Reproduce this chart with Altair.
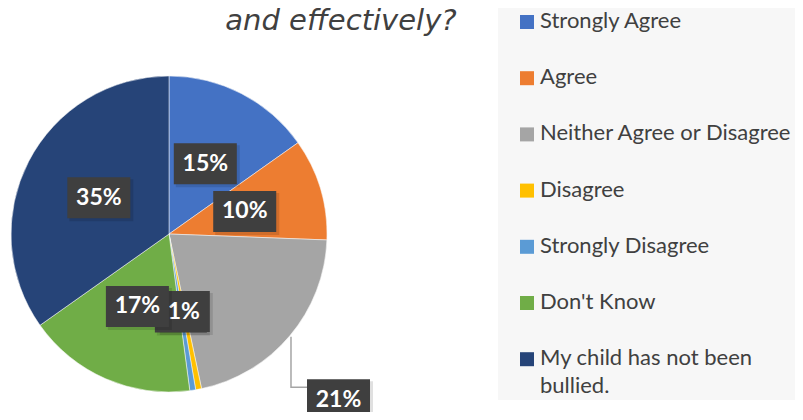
import math
import altair as alt
import pandas as pd

# ---------------- data ----------------
categories = [
    "Strongly Agree",
    "Agree",
    "Neither Agree or Disagree",
    "Disagree",
    "Strongly Disagree",
    "Don't Know",
    "My child has not been bullied.",
]
values = [15.2, 10.4, 21.1, 0.6, 0.6, 17.3, 34.8]
colors = ["#4472C4", "#ED7D31", "#A5A5A5", "#FFC000", "#5B9BD5", "#70AD47", "#264478"]
title_text = "and effectively?"

# ---------------- layout / style ----------------
W, H = 787, 404
CX, CY, R = 161, 226, 158
label_radius = [0.5, 0.5, 1.5, 0.5, 0.5, 0.5, 0.5]      # fraction of pie radius
label_shift_deg = [0, 0, 4.2, 0, 0, 0, 0]
label_draw_order = [0, 1, 2, 4, 3, 5, 6]
BOX_H = 41
LEG_TOP, LEG_STEP = 14, 56.2
TEXT_COLOR = "#404040"

xs = alt.Scale(domain=[0, W], nice=False, zero=False)
ys = alt.Scale(domain=[H, 0], nice=False, zero=False)

# ---------------- derived tables ----------------
total = sum(values)
rows = []
cum = 0.0
for i, (c, v) in enumerate(zip(categories, values)):
    a0 = cum / total * 2 * math.pi
    cum += v
    a1 = cum / total * 2 * math.pi
    mid = (a0 + a1) / 2
    la = mid + math.radians(label_shift_deg[i])
    rr = label_radius[i] * R
    lx = CX + rr * math.sin(la)
    ly = CY - rr * math.cos(la)
    txt = f"{int(v + 0.5)}%"
    bw = 30 + 11 * len(txt)
    rows.append(dict(
        idx=i, category=c, value=v, label=txt,
        lx=lx, ly=ly,
        bx=lx - bw / 2, bx2=lx + bw / 2, by=ly - BOX_H / 2, by2=ly + BOX_H / 2,
        ex=CX + R * 1.01 * math.sin(mid), ey=CY - R * 1.01 * math.cos(mid),
        outside=label_radius[i] > 1,
    ))
df = pd.DataFrame(rows)

# ---------------- layers ----------------
shadow_df = pd.DataFrame({"s": [math.pi * r * r for r in (179, 175, 171, 167, 163)]})
shadow = alt.Chart(shadow_df).mark_circle(color="#000000", opacity=0.026).encode(
    x=alt.value(CX), y=alt.value(CY), size=alt.Size("s:Q", scale=None)
)

pie = alt.Chart(df).mark_arc(radius=R, stroke="white", strokeWidth=0.5).encode(
    theta=alt.Theta("value:Q", stack=True),
    color=alt.Color("category:N", scale=alt.Scale(domain=categories, range=colors), legend=None),
    order=alt.Order("idx:Q"),
    x=alt.value(CX), y=alt.value(CY),
)

# leader line for the outside label
out = df[df["outside"]].copy()
lead_rows = []
for _, r in out.iterrows():
    cy_ = r["by"] + 8
    lead_rows += [
        dict(k=0, x=r["ex"], y=r["ey"]),
        dict(k=1, x=r["ex"], y=cy_),
        dict(k=2, x=r["bx"], y=cy_),
    ]
lead_df = pd.DataFrame(lead_rows)
leader = alt.Chart(lead_df).mark_line(color="#A5A5A5", strokeWidth=1.5).encode(
    x=alt.X("x:Q", scale=xs, axis=None),
    y=alt.Y("y:Q", scale=ys, axis=None),
    order="k:Q",
)

label_layers = []
for i in label_draw_order:
    sub = df[df["idx"] == i]
    box_shadow = alt.Chart(sub).mark_rect(color="#000000", opacity=0.12).encode(
        x=alt.X("bx:Q", scale=xs, axis=None), x2="bx2:Q",
        y=alt.Y("by:Q", scale=ys, axis=None), y2="by2:Q",
    ).transform_calculate(bx="datum.bx+2", bx2="datum.bx2+3", by="datum.by+2", by2="datum.by2+3")
    box = alt.Chart(sub).mark_rect(color="#3F3F3F").encode(
        x=alt.X("bx:Q", scale=xs, axis=None), x2="bx2:Q",
        y=alt.Y("by:Q", scale=ys, axis=None), y2="by2:Q",
    )
    txt = alt.Chart(sub).mark_text(
        font="Lato", fontSize=23, fontWeight="bold", color="white",
        align="center", baseline="middle",
    ).encode(
        x=alt.X("lx:Q", scale=xs, axis=None),
        y=alt.Y("ly:Q", scale=ys, axis=None),
        text="label:N",
    )
    label_layers += [box_shadow, box, txt]

# title (only the visible line)
title_df = pd.DataFrame({"t": [title_text]})
title = alt.Chart(title_df).mark_text(
    font="DejaVu Sans", fontSize=29, fontStyle="italic", color=TEXT_COLOR,
    align="center", baseline="alphabetic",
).encode(x=alt.value(333), y=alt.value(22), text="t:N")

# legend (drawn manually)
leg_bg = alt.Chart(title_df).mark_rect(color="#F7F7F7").encode(
    x=alt.value(490), x2=alt.value(W), y=alt.value(0), y2=alt.value(392)
)
leg_df = pd.DataFrame({
    "category": categories,
    "ly": [LEG_TOP + i * LEG_STEP for i in range(len(categories))],
})
leg_sym = alt.Chart(leg_df).mark_square(size=196, opacity=1).encode(
    x=alt.value(519),
    y=alt.Y("ly:Q", scale=ys, axis=None),
    color=alt.Color("category:N", scale=alt.Scale(domain=categories, range=colors), legend=None),
)
leg_txt = alt.Chart(leg_df).transform_calculate(
    lab="replace(datum.category, 'been ', 'been\\n')"
).mark_text(
    font="Lato", fontSize=22, color=TEXT_COLOR, align="left", baseline="line-top",
    lineBreak="\n", lineHeight=28, dy=-14,
).encode(
    x=alt.value(532),
    y=alt.Y("ly:Q", scale=ys, axis=None),
    text="lab:N",
)

chart = alt.layer(
    leg_bg, shadow, pie, leader, *label_layers, title, leg_sym, leg_txt
).properties(
    width=W, height=H, autosize=alt.AutoSizeParams(type="none"), padding=0,
    background="white",
).configure_view(stroke=None)

chart.save("out.html", embed_options={"renderer": "svg", "actions": False})
